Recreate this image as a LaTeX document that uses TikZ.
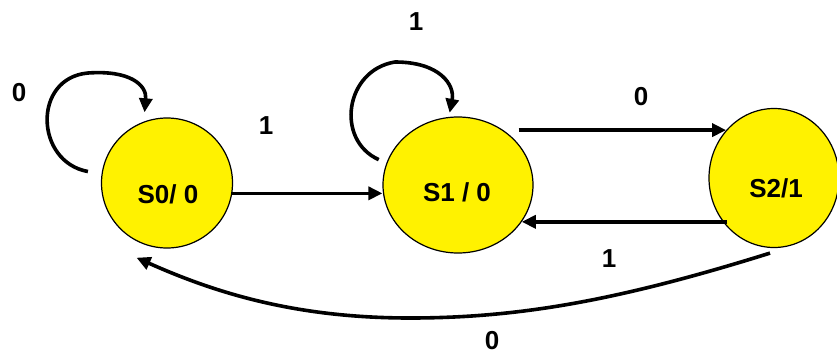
\documentclass[tikz,border=0pt]{standalone}
\usepackage{fontspec}
\setmainfont{Liberation Sans}
\usepackage{tikz}
\usetikzlibrary{shapes.geometric,arrows.meta}

\begin{document}
\begin{tikzpicture}[
  x=1pt,y=-1pt,
  state/.style={draw,ellipse,fill=yellow,line width=1.2pt,inner sep=0pt},
  edge/.style={line width=3.6pt,-{Triangle[length=14pt,width=13pt]}},
  every node/.style={font=\bfseries\fontsize{26}{30}\selectfont,inner sep=1pt}
]
\useasboundingbox (0,0) rectangle (837,356);

\node[state,minimum width=131pt,minimum height=130pt] (s0) at (167,183) {};
\node[state,minimum width=150pt,minimum height=136pt] (s1) at (458,185) {};
\node[state,minimum width=130pt,minimum height=139pt] (s2) at (774,178) {};

\node (s0txt) at (168,194) {S0/ 0};
\node (s1txt) at (457,192) {S1 / 0};
\node (s2txt) at (776,188) {S2/1};

\node (l0a) at (19,93) {0};
\node (l1a) at (266,126) {1};
\node (l1b) at (416,22) {1};
\node (l0b) at (641,97) {0};
\node (l1c) at (609,259) {1};
\node (l0c) at (492,341) {0};

% self loops
\draw[edge] ([xshift=-14pt]s0.170) .. controls (35,162) and (32,78) .. (88,73)
  .. controls (130,70) and (147,85) .. ([yshift=9pt]s0.110);
\draw[edge] ([xshift=-12pt,yshift=-6pt]s1.155) .. controls (335,140) and (345,70) .. (395,62)
  .. controls (440,62) and (455,85) .. ([yshift=4pt]s1.97);

% transitions
\draw[edge] (s0.-9) -- (s0.-9 -| s1.west);
\draw[edge,shorten <=-15pt] (s2.135 -| s1.east) -- (s2.135);
\draw[edge,shorten <=-19pt] (s1.-30 -| s2.west) -- (s1.-30);
\draw[edge] ([xshift=-4pt,yshift=-5pt]s2.south) .. controls (620,300) and (520,318) .. (410,318)
  .. controls (300,318) and (220,295) .. ([xshift=-8pt,yshift=-13pt]s0.250);
\end{tikzpicture}
\end{document}
